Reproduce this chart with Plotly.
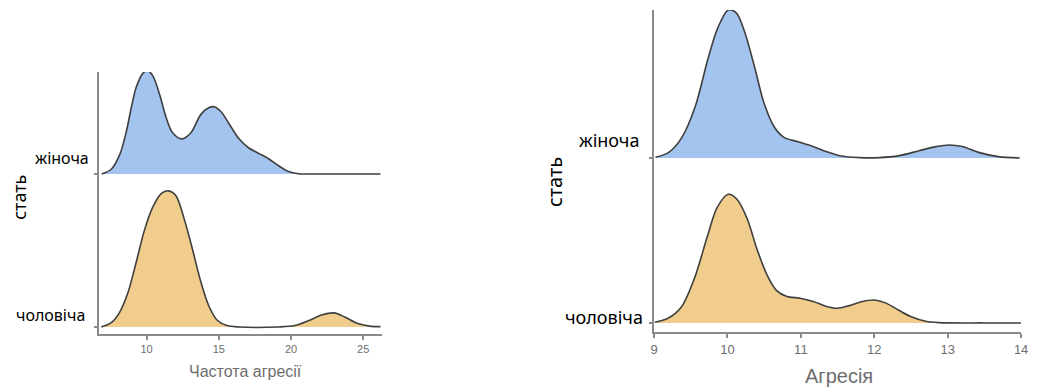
import plotly.graph_objects as go

W, H = 1039, 391

# ---------------- data ----------------
categories = ["чоловіча", "жіноча"]  # baseline 0, 1

# Left panel: Частота агресії
left_f_x = [6.89, 7.57, 8.15, 8.6, 8.95, 9.29, 9.75, 10.09, 10.44, 10.9, 11.35, 11.8, 12.45,
            13.07, 13.76, 14.33, 14.67, 15.13, 15.7, 16.4, 17.08, 17.76, 18.45, 19.14, 19.82,
            20.5, 21.4, 23.5, 26.2]
left_f_d = [0.0, 0.033, 0.13, 0.28, 0.44, 0.57, 0.66, 0.675, 0.64, 0.52, 0.37, 0.27, 0.23,
            0.27, 0.39, 0.435, 0.44, 0.41, 0.33, 0.23, 0.17, 0.135, 0.10, 0.054, 0.017,
            0.002, 0.0, 0.0, 0.0]

left_m_x = [6.86, 7.55, 8.12, 8.69, 9.27, 9.84, 10.41, 10.99, 11.51, 12.02, 12.59, 13.17, 13.74,
            14.31, 14.89, 15.57, 16.38, 19.13, 20.27, 21.19, 22.11, 22.98, 23.72, 24.63, 25.55, 26.2]
left_m_d = [0.0, 0.028, 0.094, 0.22, 0.42, 0.63, 0.78, 0.87, 0.89, 0.86, 0.71, 0.51, 0.30,
            0.137, 0.044, 0.009, 0.0, 0.0, 0.009, 0.04, 0.078, 0.092, 0.065, 0.022, 0.004, 0.002]

# Right panel: Агресія
right_f_x = [9.02, 9.2, 9.38, 9.56, 9.74, 9.87, 10.01, 10.12, 10.23, 10.37, 10.5, 10.64, 10.77,
             10.95, 11.13, 11.31, 11.53, 11.8, 12.07, 12.34, 12.61, 12.84, 13.02, 13.2, 13.42,
             13.69, 13.98]
right_f_d = [0.004, 0.034, 0.125, 0.31, 0.61, 0.79, 0.897, 0.88, 0.77, 0.55, 0.33, 0.186, 0.125,
             0.10, 0.075, 0.044, 0.014, 0.002, 0.002, 0.014, 0.044, 0.069, 0.079, 0.069, 0.034,
             0.008, 0.0]

right_m_x = [9.01, 9.19, 9.37, 9.55, 9.73, 9.86, 10.01, 10.13, 10.27, 10.4, 10.54, 10.67, 10.81,
             10.99, 11.17, 11.35, 11.5, 11.66, 11.84, 12.0, 12.16, 12.34, 12.52, 12.7, 12.88, 13.5, 14.0]
right_m_d = [0.004, 0.028, 0.095, 0.27, 0.53, 0.70, 0.78, 0.75, 0.63, 0.45, 0.29, 0.196, 0.16,
             0.15, 0.13, 0.10, 0.089, 0.105, 0.13, 0.139, 0.12, 0.075, 0.034, 0.01, 0.002, 0.0, 0.0]

left_ticks = [10, 15, 20, 25]
right_ticks = [9, 10, 11, 12, 13, 14]

# ---------------- styles ----------------
BLUE = "#A4C4F0"
ORANGE = "#F0CD8C"
LINE = "#3f3f3f"
AXIS = "#8a8a8a"
TICKTXT = "#6e6e6e"
LABEL_FONT = "Noto Sans"

fig = go.Figure()


def ridge(x, d, base, color, xa, ya):
    fig.add_trace(go.Scatter(x=x, y=[base] * len(x), mode="lines", line=dict(width=0),
                             hoverinfo="skip", showlegend=False, xaxis=xa, yaxis=ya))
    fig.add_trace(go.Scatter(x=x, y=[base + v for v in d], mode="lines", fill="tonexty",
                             fillcolor=color, line=dict(color=LINE, width=1.6, shape="spline",
                                                        smoothing=0.9),
                             showlegend=False, xaxis=xa, yaxis=ya))


ridge(left_m_x, left_m_d, 0, ORANGE, "x", "y")
ridge(left_f_x, left_f_d, 1, BLUE, "x", "y")
ridge(right_m_x, right_m_d, 0, ORANGE, "x2", "y2")
ridge(right_f_x, right_f_d, 1, BLUE, "x2", "y2")

common_axis = dict(showline=True, linecolor=AXIS, linewidth=2, showgrid=False, zeroline=False,
                   ticks="outside", tickcolor=AXIS, mirror=False)

fig.update_layout(
    width=W, height=H, margin=dict(l=0, r=0, t=0, b=0),
    paper_bgcolor="white", plot_bgcolor="white", showlegend=False,
    xaxis=dict(domain=[96 / W, 382 / W], range=[6.7, 26.3], tickvals=left_ticks,
               ticklen=4, tickwidth=1.5, tickfont=dict(size=11, color=TICKTXT, family="Liberation Sans"),
               anchor="y", **common_axis),
    yaxis=dict(domain=[1 - 334 / H, 1 - 72 / H], range=[-0.046, 1.667], tickvals=[0, 1],
               showticklabels=False, ticklen=3, tickwidth=1.5, anchor="x", **common_axis),
    xaxis2=dict(domain=[657 / W, 1028 / W], range=[9, 14], tickvals=right_ticks,
                ticklen=4, tickwidth=1.5, tickfont=dict(size=13, color=TICKTXT, family="Liberation Sans"),
                anchor="y2", **common_axis),
    yaxis2=dict(domain=[1 - 332 / H, 1 - 10 / H], range=[-0.055, 1.897], tickvals=[0, 1],
                showticklabels=False, ticklen=3, tickwidth=1.5, anchor="x2", **common_axis),
)

ann = []
# category labels
ann.append(dict(text=categories[1], xref="paper", yref="y", x=88 / W, y=1, xanchor="right",
                yanchor="bottom", yshift=3, showarrow=False, font=dict(size=16, color="black", family=LABEL_FONT)))
ann.append(dict(text=categories[0], xref="paper", yref="y", x=84 / W, y=0, xanchor="right",
                yanchor="bottom", yshift=-1, showarrow=False, font=dict(size=16, color="black", family=LABEL_FONT)))
ann.append(dict(text=categories[1], xref="paper", yref="y2", x=644 / W, y=1, xanchor="right",
                yanchor="bottom", yshift=4, showarrow=False, font=dict(size=18, color="black", family=LABEL_FONT)))
ann.append(dict(text=categories[0], xref="paper", yref="y2", x=648 / W, y=0, xanchor="right",
                yanchor="bottom", yshift=-8, showarrow=False, font=dict(size=18, color="black", family=LABEL_FONT)))
# axis titles
ann.append(dict(text="стать", xref="paper", yref="paper", x=15 / W, y=1 - 197 / H, textangle=-90,
                xanchor="center", yanchor="middle", showarrow=False,
                font=dict(size=18, color="black", family=LABEL_FONT)))
ann.append(dict(text="стать", xref="paper", yref="paper", x=556 / W, y=1 - 182 / H, textangle=-90,
                xanchor="center", yanchor="middle", showarrow=False,
                font=dict(size=20, color="black", family=LABEL_FONT)))
ann.append(dict(text="Частота агресії", xref="paper", yref="paper", x=244 / W, y=1 - 371 / H,
                xanchor="center", yanchor="middle", showarrow=False,
                font=dict(size=16, color=TICKTXT, family="Liberation Sans")))
ann.append(dict(text="Агресія", xref="paper", yref="paper", x=844 / W, y=1 - 376 / H,
                xanchor="center", yanchor="middle", showarrow=False,
                font=dict(size=20, color=TICKTXT, family="Liberation Sans")))
fig.update_layout(annotations=ann)

fig.write_html("out.html", config={"displayModeBar": False},
               post_script="document.body.style.margin='0px';document.body.style.overflow='hidden';")
